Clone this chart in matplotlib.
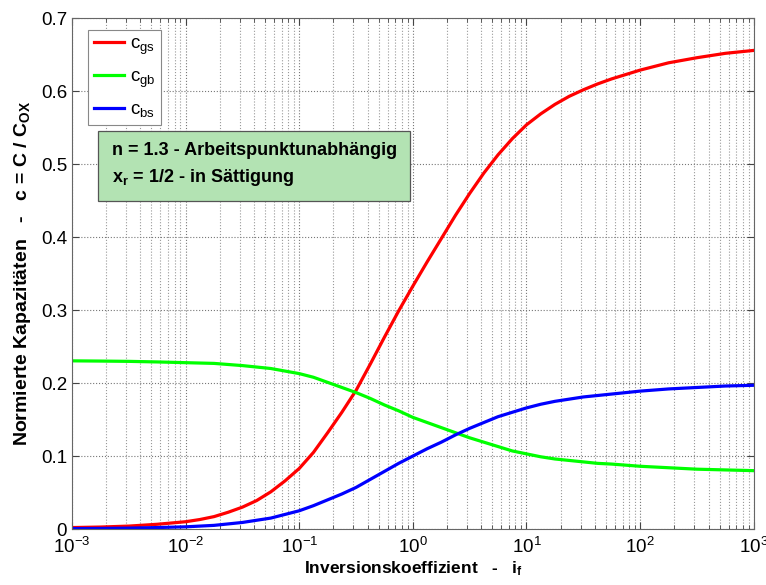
import matplotlib
matplotlib.use("Agg")
import matplotlib.pyplot as plt
from matplotlib.ticker import LogLocator, NullFormatter, FixedLocator, FixedFormatter

plt.rcParams['font.family'] = ['Liberation Sans', 'DejaVu Sans']
plt.rcParams['mathtext.fontset'] = 'custom'
plt.rcParams['mathtext.rm'] = 'Liberation Sans'
plt.rcParams['mathtext.it'] = 'Liberation Sans:italic'
plt.rcParams['mathtext.bf'] = 'Liberation Sans:bold'

# inversion coefficient (log10) and values
log_if = [-3, -2.75, -2.5, -2.25, -2, -1.875, -1.75, -1.625, -1.5, -1.375, -1.25, -1.125,
          -1, -0.875, -0.75, -0.625, -0.5, -0.375, -0.25, -0.125, 0, 0.125, 0.25, 0.375,
          0.5, 0.625, 0.75, 0.875, 1, 1.125, 1.25, 1.375, 1.5, 1.625, 1.75, 2, 2.25, 2.5,
          2.75, 3]
c_gs = [0.002, 0.0027, 0.004, 0.0065, 0.010, 0.013, 0.017, 0.023, 0.030, 0.039, 0.051, 0.066,
        0.083, 0.105, 0.132, 0.160, 0.190, 0.226, 0.263, 0.299, 0.333, 0.366, 0.398, 0.430,
        0.460, 0.488, 0.513, 0.535, 0.554, 0.569, 0.582, 0.593, 0.602, 0.610, 0.617, 0.629,
        0.639, 0.646, 0.652, 0.656]
c_gb = [0.2305, 0.2302, 0.2298, 0.229, 0.228, 0.2275, 0.227, 0.2255, 0.224, 0.222, 0.220, 0.2165,
        0.213, 0.208, 0.201, 0.194, 0.187, 0.179, 0.170, 0.162, 0.153, 0.146, 0.139, 0.132,
        0.125, 0.119, 0.113, 0.107, 0.103, 0.099, 0.096, 0.094, 0.092, 0.090, 0.089, 0.086,
        0.084, 0.082, 0.081, 0.080]
c_bs = [0.0006, 0.0008, 0.0012, 0.002, 0.003, 0.004, 0.005, 0.007, 0.009, 0.012, 0.015, 0.020,
        0.025, 0.032, 0.040, 0.048, 0.057, 0.068, 0.079, 0.090, 0.100, 0.110, 0.119, 0.129,
        0.138, 0.146, 0.154, 0.160, 0.166, 0.171, 0.175, 0.178, 0.181, 0.183, 0.185, 0.189,
        0.192, 0.194, 0.196, 0.197]

x_ticks = [1e-3, 1e-2, 1e-1, 1e0, 1e1, 1e2, 1e3]
x_ticklabels = [r'$\mathregular{10^{-3}}$', r'$\mathregular{10^{-2}}$', r'$\mathregular{10^{-1}}$',
                r'$\mathregular{10^{0}}$', r'$\mathregular{10^{1}}$', r'$\mathregular{10^{2}}$',
                r'$\mathregular{10^{3}}$']
y_ticks = [0, 0.1, 0.2, 0.3, 0.4, 0.5, 0.6, 0.7]
y_ticklabels = ['0', '0.1', '0.2', '0.3', '0.4', '0.5', '0.6', '0.7']

x = [10 ** v for v in log_if]

fig = plt.figure(figsize=(7.66, 5.85), dpi=100)
ax = fig.add_axes([0.094, 0.0957, 0.890, 0.873])

ax.plot(x, c_gs, color='#ff0000', lw=2.3, label=r'c$_{\mathregular{gs}}$')
ax.plot(x, c_gb, color='#00ff00', lw=2.3, label=r'c$_{\mathregular{gb}}$')
ax.plot(x, c_bs, color='#0000ff', lw=2.3, label=r'c$_{\mathregular{bs}}$')

ax.set_xscale('log')
ax.set_xlim(1e-3, 1e3)
ax.set_ylim(0, 0.7)
ax.set_yticks(y_ticks)
ax.set_yticklabels(y_ticklabels)
ax.xaxis.set_major_locator(FixedLocator(x_ticks))
ax.xaxis.set_major_formatter(FixedFormatter(x_ticklabels))
ax.xaxis.set_minor_locator(LogLocator(base=10, subs=range(2, 10), numticks=20))
ax.xaxis.set_minor_formatter(NullFormatter())

ax.grid(True, which='major', linestyle=':', color='#777777', lw=0.8)
ax.grid(True, which='minor', axis='x', linestyle=':', color='#999999', lw=0.8)

ax.tick_params(which='both', direction='in', top=True, right=True, labelsize=13.5,
               color='#444444')
ax.tick_params(which='major', length=5)
ax.tick_params(which='minor', length=3)
ax.tick_params(axis='x', which='major', pad=6)
for s in ax.spines.values():
    s.set_color('#666666')

ax.set_xlabel(r'Inversionskoeffizient   -   i$_{\mathregular{f}}$', fontsize=12.5,
              fontweight='bold', labelpad=1)
ax.set_ylabel(r'Normierte Kapazitäten   -   c = C / C$_{\mathregular{OX}}$', fontsize=14,
              fontweight='bold', labelpad=6)

leg = ax.legend(loc='upper left', bbox_to_anchor=(0.024, 0.977), borderaxespad=0,
                fontsize=13.5, handlelength=1.6, handletextpad=0.3, labelspacing=0.62,
                fancybox=False, framealpha=1, borderpad=0.3)
leg.get_frame().set_edgecolor('#888888')
leg.get_frame().set_linewidth(0.8)

ax.text(0.058, 0.757, 'n = 1.3 - Arbeitspunktunabhängig\n'
        r'x$_{\mathregular{r}}$ = 1/2 - in Sättigung',
        transform=ax.transAxes, fontsize=13, fontweight='bold', va='top', ha='left',
        linespacing=1.5,
        bbox=dict(boxstyle='square,pad=0.75', facecolor='#b3e3b3', edgecolor='#555555', lw=0.9))

fig.savefig('out.png', dpi=100)
